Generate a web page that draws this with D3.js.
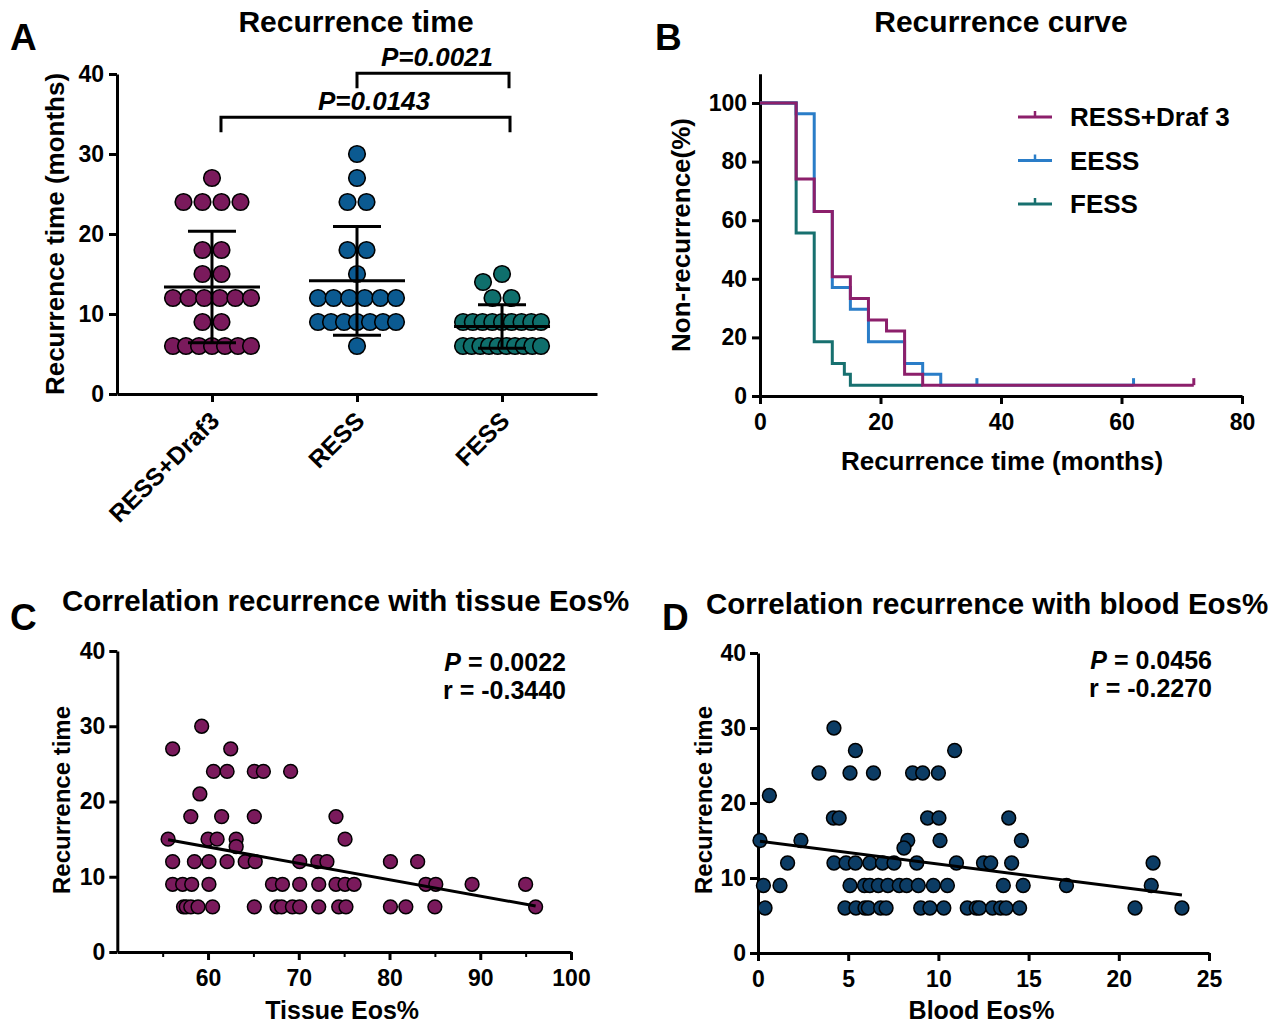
<!DOCTYPE html>
<html>
<head>
<meta charset="utf-8">
<script src="https://cdn.jsdelivr.net/npm/d3@7"></script>
<style>
  body { margin: 0; background: #fff; }
  text { font-family: 'Liberation Sans', Arial, sans-serif; font-weight: bold; }
</style>
</head>
<body>
<script>
// couleurs
var colours = {
    purple: '#7a1a5c',
    blue: '#0b5a91',
    teal: '#0f6f6c',
    navy: '#0c3c64',
    kmPurple: '#8c1f6b',
    kmBlue: '#2a7dc8',
    kmTeal: '#17706f'
}

// Panel A : recurrence time par groupe
var groups = ['RESS+Draf3', 'RESS', 'FESS']
var ressDraf3 = [27, 24, 24, 24, 24, 18, 18, 15, 15, 12, 12, 12, 12, 12, 12, 9, 9, 6, 6, 6, 6, 6, 6, 6]
var ress = [30, 27, 24, 24, 18, 18, 15, 12, 12, 12, 12, 12, 12, 9, 9, 9, 9, 9, 9, 9, 6]
var fess = [15, 14, 12, 12, 9, 9, 9, 9, 9, 9, 9, 9, 9, 6, 6, 6, 6, 6, 6, 6, 6, 6, 6]
var pLabels = ['P=0.0021', 'P=0.0143']

// Panel B : courbes de Kaplan-Meier
var kmNames = ['RESS+Draf 3', 'EESS', 'FESS']
var kmRessTime = [0, 6, 9, 12, 15, 18, 21, 24, 27, 72]
var kmRessSurv = [100, 74.1, 63.0, 40.7, 33.3, 25.9, 22.2, 7.4, 3.7, 3.7]
var kmEessTime = [0, 6, 9, 12, 15, 18, 24, 27, 30, 62]
var kmEessSurv = [100, 96.3, 63.0, 37.0, 29.6, 18.5, 11.1, 7.4, 3.7, 3.7]
var kmFessTime = [0, 6, 9, 12, 14, 15, 27]
var kmFessSurv = [100, 55.6, 18.5, 11.1, 7.4, 3.7, 3.7]
var kmRessCensor = [72]
var kmEessCensor = [36, 62]

// Panel C : tissue Eos%
var tissueEos = [59.3, 56.1, 62.5, 60.6, 62.1, 65.1, 66.1, 69.1, 59.1, 58.1, 61.5, 65.1, 74.1,
    55.6, 60.0, 61.0, 63.1, 75.1, 63.1,
    56.1, 58.5, 60.1, 62.1, 64.1, 65.2, 70.1, 72.1, 73.1, 80.1, 83.1,
    56.1, 57.2, 58.2, 60.1, 67.1, 68.2, 70.1, 72.2, 74.1, 75.1, 76.1, 84.0, 85.1, 89.1, 95.0,
    57.3, 57.6, 58.1, 58.9, 60.5, 65.1, 67.6, 68.1, 69.3, 70.1, 72.2, 74.4, 75.2, 80.1, 81.8, 85.0, 96.1]
var tissueRec = [30, 27, 27, 24, 24, 24, 24, 24, 21, 18, 18, 18, 18,
    15, 15, 15, 15, 15, 14,
    12, 12, 12, 12, 12, 12, 12, 12, 12, 12, 12,
    9, 9, 9, 9, 9, 9, 9, 9, 9, 9, 9, 9, 9, 9, 9,
    6, 6, 6, 6, 6, 6, 6, 6, 6, 6, 6, 6, 6, 6, 6, 6, 6]
var statsC = ['0.0022', '-0.3440']

// Panel D : blood Eos%
var bloodEos = [4.21, 5.4, 10.9, 3.38, 5.1, 6.4, 8.57, 9.13, 10.0, 0.63,
    4.18, 4.5, 9.4, 10.03, 13.9,
    0.11, 2.38, 8.3, 10.09, 14.6, 8.09,
    1.64, 4.21, 4.88, 5.4, 6.2, 6.9, 7.54, 8.8, 11.0, 12.5, 12.9, 14.06, 21.9,
    0.3, 1.22, 5.1, 5.9, 6.2, 6.67, 7.2, 7.83, 8.24, 8.89, 9.72, 10.5, 13.6, 14.7, 17.1, 21.8,
    0.39, 4.82, 5.43, 5.93, 6.12, 6.8, 7.1, 9.02, 9.53, 10.3, 11.6, 12.1, 12.27, 13.0, 13.45, 13.75, 14.5, 20.9, 23.5]
var bloodRec = [30, 27, 27, 24, 24, 24, 24, 24, 24, 21,
    18, 18, 18, 18, 18,
    15, 15, 15, 15, 15, 14,
    12, 12, 12, 12, 12, 12, 12, 12, 12, 12, 12, 12, 12,
    9, 9, 9, 9, 9, 9, 9, 9, 9, 9, 9, 9, 9, 9, 9, 9,
    6, 6, 6, 6, 6, 6, 6, 6, 6, 6, 6, 6, 6, 6, 6, 6, 6, 6, 6]
var statsD = ['0.0456', '-0.2270']

var svg = d3.select('body').append('svg')
    .attr('width', 1273)
    .attr('height', 1025)

function styleAxis(g, fs) {
    g.select('.domain').attr('stroke', '#000').attr('stroke-width', 3)
    g.selectAll('.tick line').attr('stroke', '#000').attr('stroke-width', 3)
    g.selectAll('.tick text').attr('fill', '#000').attr('font-size', fs + 'px')
        .attr('font-family', "'Liberation Sans', Arial, sans-serif").attr('font-weight', 'bold')
}

function label(x, y, txt, size, anchor, rot) {
    var t = svg.append('text')
        .attr('transform', 'translate(' + x + ',' + y + ')' + (rot ? ' rotate(' + rot + ')' : ''))
        .attr('font-size', size + 'px')
        .attr('text-anchor', anchor || 'start')
        .text(txt)
    return t
}

// lettres des panneaux
label(10, 50, 'A', 37)
label(655, 50, 'B', 37)
label(10, 630, 'C', 37)
label(662, 630, 'D', 37)

// ---------- Panel A ----------
var xA = d3.scalePoint().domain(groups).range([117, 597]).padding(0.655)
var yA = d3.scaleLinear().domain([0, 40]).range([394, 74])

label(356, 32, 'Recurrence time', 30, 'middle')

var axA = svg.append('g').attr('transform', 'translate(117,0)')
    .call(d3.axisLeft(yA).tickValues([0, 10, 20, 30, 40]).tickSize(8).tickSizeOuter(0).tickPadding(5))
styleAxis(axA, 23)

var axAx = svg.append('g').attr('transform', 'translate(0,394)')
    .call(d3.axisBottom(xA).tickSize(8).tickSizeOuter(0))
styleAxis(axAx, 24.5)
axAx.selectAll('.tick text')
    .attr('text-anchor', 'end')
    .attr('x', 0).attr('y', 0).attr('dy', '0.72em')
    .attr('transform', 'translate(-4,16) rotate(-45)')

label(64, 234, 'Recurrence time (months)', 26, 'middle', -90)

var groupData = [ressDraf3, ress, fess]
var groupCols = [colours.purple, colours.blue, colours.teal]
var rA = 8.3

groupData.forEach(function (vals, gi) {
    var cx = xA(groups[gi])
    var rows = d3.groups(vals, d => d).sort((a, b) => b[0] - a[0])
    var placed = []
    rows.forEach(function (row) {
        var v = row[0], n = row[1].length
        var step = n > 1 ? Math.min(19, 78 / (n - 1)) : 19
        var cy = yA(v)
        var shift = 0
        var tries = [0, -19, 19, -38, 38]
        for (var k = 0; k < tries.length; k++) {
            shift = tries[k]
            var ok = d3.range(n).every(function (i) {
                var x = cx + shift + (i - (n - 1) / 2) * step
                return placed.every(p => Math.hypot(p[0] - x, p[1] - cy) >= 16)
            })
            if (ok) break
        }
        d3.range(n).forEach(function (i) {
            placed.push([cx + shift + (i - (n - 1) / 2) * step, cy])
        })
    })
    svg.append('g').selectAll('circle').data(placed).join('circle')
        .attr('cx', d => d[0]).attr('cy', d => d[1]).attr('r', rA)
        .attr('fill', groupCols[gi]).attr('stroke', '#000').attr('stroke-width', 1.6)

    var m = d3.mean(vals), sd = d3.deviation(vals)
    var eb = svg.append('g').attr('stroke', '#000').attr('stroke-width', 3)
    eb.append('line').attr('x1', cx).attr('x2', cx).attr('y1', yA(m - sd)).attr('y2', yA(m + sd))
    eb.append('line').attr('x1', cx - 48).attr('x2', cx + 48).attr('y1', yA(m)).attr('y2', yA(m))
    eb.append('line').attr('x1', cx - 24).attr('x2', cx + 24).attr('y1', yA(m + sd)).attr('y2', yA(m + sd))
    eb.append('line').attr('x1', cx - 24).attr('x2', cx + 24).attr('y1', yA(m - sd)).attr('y2', yA(m - sd))
})

// crochets de significativite
var brackets = [
    { x1: xA('RESS'), x2: xA('FESS') + 7, level: 40.1, txt: pLabels[0], tx: 437 },
    { x1: xA('RESS+Draf3') + 9, x2: xA('FESS') + 8, level: 34.6, txt: pLabels[1], tx: 374 }
]
brackets.forEach(function (b) {
    var y = yA(b.level)
    svg.append('path')
        .attr('d', d3.line()([[b.x1, y + 15], [b.x1, y], [b.x2, y], [b.x2, y + 15]]))
        .attr('fill', 'none').attr('stroke', '#000').attr('stroke-width', 3)
    label(b.tx, y - 7, b.txt, 26, 'middle').attr('font-style', 'italic')
})

// ---------- Panel B ----------
var xB = d3.scaleLinear().domain([0, 80]).range([760, 1242])
var yB = d3.scaleLinear().domain([0, 110]).range([396, 73.7])

label(1001, 32, 'Recurrence curve', 30, 'middle')

var axB = svg.append('g').attr('transform', 'translate(760,0)')
    .call(d3.axisLeft(yB).tickValues([0, 20, 40, 60, 80, 100]).tickSize(8).tickSizeOuter(0).tickPadding(5))
styleAxis(axB, 23)
var axBx = svg.append('g').attr('transform', 'translate(0,396)')
    .call(d3.axisBottom(xB).tickValues([0, 20, 40, 60, 80]).tickSize(8).tickSizeOuter(0).tickPadding(10))
styleAxis(axBx, 23)

label(1002, 470, 'Recurrence time (months)', 26, 'middle')
label(690, 235, 'Non-recurrence(%)', 26, 'middle', -90)

var kmSeries = [
    { name: kmNames[2], t: kmFessTime, s: kmFessSurv, c: colours.kmTeal, cens: [] },
    { name: kmNames[1], t: kmEessTime, s: kmEessSurv, c: colours.kmBlue, cens: kmEessCensor },
    { name: kmNames[0], t: kmRessTime, s: kmRessSurv, c: colours.kmPurple, cens: kmRessCensor }
]
var stepLine = d3.line().x(d => xB(d[0])).y(d => yB(d[1])).curve(d3.curveStepAfter)

kmSeries.forEach(function (k) {
    svg.append('path')
        .attr('d', stepLine(k.t.map((t, i) => [t, k.s[i]])))
        .attr('fill', 'none').attr('stroke', k.c).attr('stroke-width', 3)
    k.cens.forEach(function (ct) {
        var sv = k.s[k.s.length - 1]
        svg.append('line')
            .attr('x1', xB(ct)).attr('x2', xB(ct))
            .attr('y1', yB(sv)).attr('y2', yB(sv) - 7)
            .attr('stroke', k.c).attr('stroke-width', 3)
    })
})

// legende
var legY = d3.scalePoint().domain(kmNames).range([117, 204])
var legCols = [colours.kmPurple, colours.kmBlue, colours.kmTeal]
kmNames.forEach(function (n, i) {
    var y = legY(n)
    svg.append('line').attr('x1', 1018).attr('x2', 1052).attr('y1', y).attr('y2', y)
        .attr('stroke', legCols[i]).attr('stroke-width', 3)
    svg.append('line').attr('x1', 1035).attr('x2', 1035).attr('y1', y).attr('y2', y - 6)
        .attr('stroke', legCols[i]).attr('stroke-width', 2.5)
    label(1070, y + 9, n, 26)
})

// ---------- Panels C et D ----------
function scatterPanel(opt) {
    var x = d3.scaleLinear().domain(opt.xDom).range(opt.xRange)
    var y = d3.scaleLinear().domain([0, 40]).range(opt.yRange)

    label(opt.titleX, opt.titleY, opt.title, 29.5)

    var ay = svg.append('g').attr('transform', 'translate(' + opt.xRange[0] + ',0)')
        .call(d3.axisLeft(y).tickValues([0, 10, 20, 30, 40]).tickSize(8).tickSizeOuter(0).tickPadding(4))
    styleAxis(ay, 23)

    var ax = svg.append('g').attr('transform', 'translate(0,' + opt.yRange[0] + ')')
        .call(d3.axisBottom(x).tickValues(opt.ticks).tickSize(8).tickSizeOuter(0).tickPadding(10))
    styleAxis(ax, 23)
    if (opt.minor) {
        svg.append('g').attr('transform', 'translate(0,' + opt.yRange[0] + ')')
            .call(d3.axisBottom(x).tickValues(opt.minor).tickSize(5).tickFormat(''))
            .call(g => g.select('.domain').remove())
            .selectAll('line').attr('stroke', '#000').attr('stroke-width', 2)
    }

    label(opt.yLabX, 800, 'Recurrence time', 24, 'middle', -90)
    label(d3.mean(opt.xRange) - 2, 1019, opt.xLabel, 25, 'middle')

    var pts = opt.xs.map((v, i) => [v, opt.ys[i]])
    svg.append('g').selectAll('circle').data(pts).join('circle')
        .attr('cx', d => x(d[0])).attr('cy', d => y(d[1])).attr('r', 6.9)
        .attr('fill', opt.colour).attr('stroke', '#000').attr('stroke-width', 1.5)

    // droite de regression (moindres carres)
    var mx = d3.mean(opt.xs), my = d3.mean(opt.ys)
    var sxy = d3.sum(pts, d => (d[0] - mx) * (d[1] - my))
    var sxx = d3.sum(pts, d => (d[0] - mx) * (d[0] - mx))
    var slope = sxy / sxx, icpt = my - slope * mx
    var ext = d3.extent(opt.xs)
    svg.append('path')
        .attr('d', d3.line()(ext.map(v => [x(v), y(icpt + slope * v)])))
        .attr('stroke', '#000').attr('stroke-width', 3).attr('fill', 'none')

    var t1 = label(opt.statX, opt.statY, '', 25, 'end')
    t1.append('tspan').attr('font-style', 'italic').text('P')
    t1.append('tspan').text(' = ' + opt.stats[0])
    label(opt.statX, opt.statY + 28, 'r = ' + opt.stats[1], 25, 'end')
}

scatterPanel({
    xDom: [50, 100], xRange: [117.3, 571], yRange: [952, 651],
    ticks: [60, 70, 80, 90, 100], minor: [55, 65, 75, 85, 95],
    xs: tissueEos, ys: tissueRec, colour: colours.purple,
    title: 'Correlation recurrence with tissue Eos%', titleX: 62, titleY: 611,
    xLabel: 'Tissue Eos%', yLabX: 70,
    stats: statsC, statX: 566, statY: 671
})

scatterPanel({
    xDom: [0, 25], xRange: [758, 1209], yRange: [953, 653],
    ticks: [0, 5, 10, 15, 20, 25], minor: null,
    xs: bloodEos, ys: bloodRec, colour: colours.navy,
    title: 'Correlation recurrence with blood Eos%', titleX: 706, titleY: 614,
    xLabel: 'Blood Eos%', yLabX: 712,
    stats: statsD, statX: 1212, statY: 669
})
</script>
</body>
</html>
